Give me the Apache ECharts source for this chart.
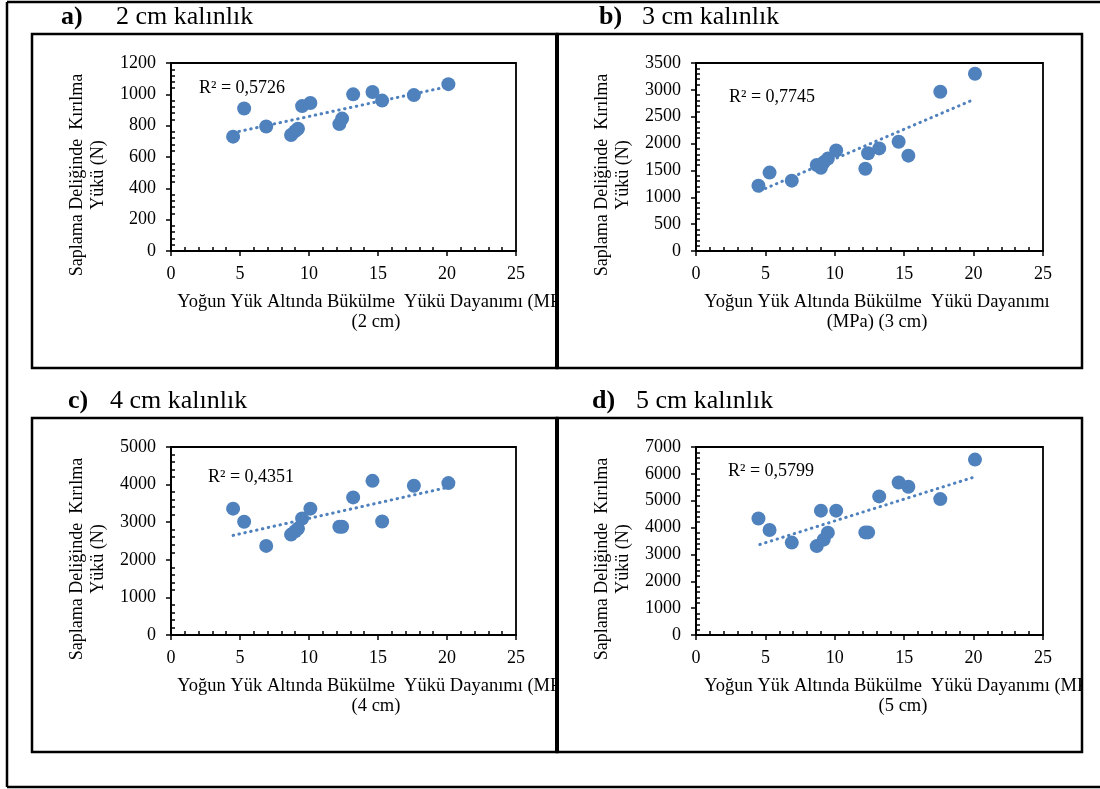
<!DOCTYPE html>
<html>
<head>
<meta charset="utf-8">
<script src="https://cdn.jsdelivr.net/npm/echarts@6/dist/echarts.min.js"></script>
<style>
html, body { margin: 0; padding: 0; background: #fff; }
#echarts { width: 1100px; height: 789px; }
</style>
</head>
<body>
<div id="echarts"></div>
<script>
// veriler
var xDayanim = [4.5, 5.3, 6.9, 8.7, 9.0, 9.2, 9.5, 10.1, 12.2, 12.4, 13.2, 14.6, 15.3, 17.6, 20.1];
var yuk2cm = [730, 910, 795, 740, 765, 780, 925, 945, 810, 845, 1000, 1015, 960, 995, 1065];
var yuk3cm = [1215, 1460, 1310, 1600, 1550, 1650, 1720, 1870, 1530, 1820, 1910, 2035, 1775, 2965, 3300];
var yuk4cm = [3360, 3010, 2370, 2670, 2760, 2830, 3100, 3360, 2880, 2880, 3660, 4100, 3020, 3970, 4040];
var yuk5cm = [4340, 3910, 3440, 3310, 4630, 3550, 3810, 4630, 3820, 3820, 5160, 5680, 5520, 5060, 6530];
var trend2cm = [[4.5, 755], [20.1, 1050]];
var trend3cm = [[4.6, 1120], [20.1, 2830]];
var trend4cm = [[4.5, 2650], [20.1, 3930]];
var trend5cm = [[4.6, 3370], [20.1, 5890]];
var xMax = 25, xStep = 5;
var yMax = [1200, 3500, 5000, 7000];
var yStep = [200, 500, 1000, 1000];
var r2 = ['R² = 0,5726', 'R² = 0,7745', 'R² = 0,4351', 'R² = 0,5799'];
var harf = ['a)', 'b)', 'c)', 'd)'];
var basliklar = ['2 cm kalınlık', '3 cm kalınlık', '4 cm kalınlık', '5 cm kalınlık'];
var xAdlari = [
    'Yoğun Yük Altında Bükülme  Yükü Dayanımı (MPa)\n(2 cm)',
    'Yoğun Yük Altında Bükülme  Yükü Dayanımı\n(MPa) (3 cm)',
    'Yoğun Yük Altında Bükülme  Yükü Dayanımı (MPa)\n(4 cm)',
    'Yoğun Yük Altında Bükülme  Yükü Dayanımı (MPa)\n(5 cm)'
];
var yAdi = 'Saplama Deliğinde  Kırılma\nYükü (N)';

var font = '"Liberation Serif", "Times New Roman", serif';
var mavi = '#4f81bd';
var yukler = [yuk2cm, yuk3cm, yuk4cm, yuk5cm];
var trendler = [trend2cm, trend3cm, trend4cm, trend5cm];

// panel yerlesimi
var paneller = [
    {left: 171, top: 63, w: 345, h: 188, bx: 32, by: 34},
    {left: 696, top: 63, w: 347, h: 188, bx: 557, by: 34},
    {left: 171, top: 447, w: 345, h: 188, bx: 32, by: 418},
    {left: 696, top: 447, w: 347, h: 188, bx: 557, by: 418}
];
var xAdMerkez = [376, 877, 376, 903];
var baslikX = [[61, 116], [599, 642], [68, 110], [592, 636]];
var r2Konum = [[199, 88], [729, 97], [208, 477], [728, 471]];

// ara (minor) tik konumlari: ana tikler disinda, 5 esit parca
function araTikler(max, step) {
    var out = [];
    var s = step / 5;
    for (var k = 1; k * s < max; k++) {
        if (k % 5 !== 0) out.push(k * s);
    }
    return out;
}

var myChart = echarts.init(document.getElementById('echarts'));

var grids = [], xAxes = [], yAxes = [], series = [], elements = [];
var etiket = function (v) { return String(v); };

paneller.forEach(function (p, i) {
    grids.push({
        left: p.left, top: p.top, width: p.w, height: p.h,
        show: true, borderColor: '#000', borderWidth: 1.8,
        outerBoundsMode: 'none'
    });
    // ana eksenler
    xAxes.push({
        gridIndex: i, type: 'value', position: 'bottom', min: 0, max: xMax, interval: xStep,
        splitLine: {show: false},
        axisLine: {show: true, onZero: false, lineStyle: {color: '#000', width: 2}},
        axisTick: {show: true, length: 5, lineStyle: {color: '#000', width: 1.5}},
        axisLabel: {color: '#000', fontFamily: font, fontSize: 18, margin: 14, formatter: etiket}
    });
    yAxes.push({
        gridIndex: i, type: 'value', position: 'left', min: 0, max: yMax[i], interval: yStep[i],
        splitLine: {show: false},
        axisLine: {show: true, onZero: false, lineStyle: {color: '#000', width: 2}},
        axisTick: {show: true, length: 5, lineStyle: {color: '#000', width: 1.5}},
        axisLabel: {color: '#000', fontFamily: font, fontSize: 18, margin: 15, formatter: etiket}
    });
    // ic tarafa bakan ara tikler
    xAxes.push({
        gridIndex: i, type: 'value', position: 'bottom', min: 0, max: xMax,
        splitLine: {show: false},
        axisLine: {show: false, onZero: false},
        axisLabel: {show: false},
        axisTick: {show: true, inside: true, length: 4, customValues: araTikler(xMax, xStep), lineStyle: {color: '#000', width: 1.5}}
    });
    yAxes.push({
        gridIndex: i, type: 'value', position: 'left', min: 0, max: yMax[i],
        splitLine: {show: false},
        axisLine: {show: false, onZero: false},
        axisLabel: {show: false},
        axisTick: {show: true, inside: true, length: 4, customValues: araTikler(yMax[i], yStep[i]), lineStyle: {color: '#000', width: 1.5}}
    });
    series.push({
        type: 'scatter', xAxisIndex: 2 * i, yAxisIndex: 2 * i,
        data: xDayanim.map(function (x, k) { return [x, yukler[i][k]]; }),
        symbolSize: 14,
        itemStyle: {color: mavi, opacity: 1},
        z: 2
    });
    series.push({
        type: 'line', xAxisIndex: 2 * i, yAxisIndex: 2 * i,
        data: trendler[i],
        symbol: 'none', silent: true,
        lineStyle: {color: mavi, width: 3, type: [0.5, 5.5], cap: 'round'},
        z: 3
    });

    // basliklar
    elements.push({
        type: 'text', x: baslikX[i][0], y: p.by - 17, z: 10,
        style: {text: harf[i], font: 'bold 26px ' + font, fill: '#000', verticalAlign: 'middle'}
    });
    elements.push({
        type: 'text', x: baslikX[i][1], y: p.by - 17, z: 10,
        style: {text: basliklar[i], font: '26px ' + font, fill: '#000', verticalAlign: 'middle'}
    });
    // eksen adlari
    elements.push({
        type: 'text', x: xAdMerkez[i], y: p.top + p.h + 61, z: 10,
        style: {text: xAdlari[i], font: '18.5px ' + font, fill: '#000', align: 'center', verticalAlign: 'middle', lineHeight: 20}
    });
    elements.push({
        type: 'text', x: p.left - 83, y: p.top + p.h / 2 + 18, rotation: Math.PI / 2, z: 10,
        style: {text: yAdi, font: '18px ' + font, fill: '#000', align: 'center', verticalAlign: 'middle', lineHeight: 21}
    });
    // R2
    elements.push({
        type: 'text', x: r2Konum[i][0], y: r2Konum[i][1], z: 10,
        style: {text: r2[i], font: '18px ' + font, fill: '#000', verticalAlign: 'middle'}
    });
});

// panel disina tasan yazilari ort
elements.push({type: 'rect', z: 20, shape: {x: 558, y: 286, width: 80, height: 50}, style: {fill: '#fff'}});
elements.push({type: 'rect', z: 20, shape: {x: 558, y: 672, width: 80, height: 50}, style: {fill: '#fff'}});
elements.push({type: 'rect', z: 20, shape: {x: 1083, y: 672, width: 17, height: 50}, style: {fill: '#fff'}});

// cerceveler
paneller.forEach(function (p) {
    elements.push({
        type: 'rect', z: 30,
        shape: {x: p.bx, y: p.by, width: 525, height: 334},
        style: {fill: 'none', stroke: '#000', lineWidth: 2.5}
    });
});
elements.push({type: 'line', z: 31, shape: {x1: 557, y1: 34, x2: 557, y2: 368}, style: {stroke: '#000', lineWidth: 4}});
elements.push({type: 'line', z: 31, shape: {x1: 557, y1: 418, x2: 557, y2: 752}, style: {stroke: '#000', lineWidth: 4}});
elements.push({type: 'line', z: 31, shape: {x1: 7, y1: 2, x2: 1100, y2: 2}, style: {stroke: '#000', lineWidth: 2.5}});
elements.push({type: 'line', z: 31, shape: {x1: 7, y1: 2, x2: 7, y2: 787}, style: {stroke: '#000', lineWidth: 2.5}});
elements.push({type: 'line', z: 31, shape: {x1: 7, y1: 787, x2: 1100, y2: 787}, style: {stroke: '#000', lineWidth: 2.5}});

var option = {
    animation: false,
    backgroundColor: '#fff',
    grid: grids,
    xAxis: xAxes,
    yAxis: yAxes,
    series: series,
    graphic: {elements: elements}
};
myChart.setOption(option);
</script>
</body>
</html>
